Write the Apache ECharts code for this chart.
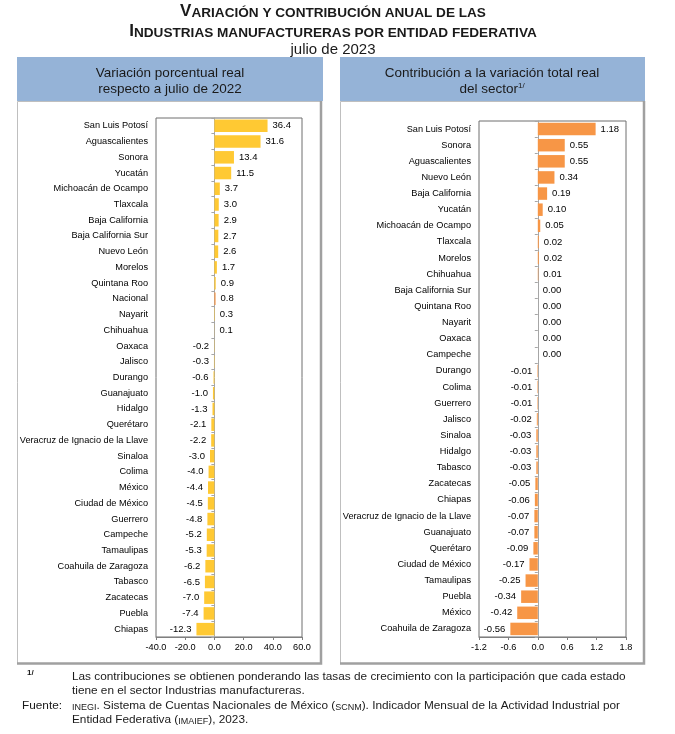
<!DOCTYPE html>
<html>
<head>
<meta charset="utf-8">
<script src="https://cdn.jsdelivr.net/npm/echarts@6/dist/echarts.min.js"></script>
<style>
html,body{margin:0;padding:0;background:#fff;}
#c{width:675px;height:734px;}
</style>
</head>
<body>
<div id="c"></div>
<script>
// ---- Data ----
const leftCategories = ["San Luis Potosí","Aguascalientes","Sonora","Yucatán","Michoacán de Ocampo","Tlaxcala","Baja California","Baja California Sur","Nuevo León","Morelos","Quintana Roo","Nacional","Nayarit","Chihuahua","Oaxaca","Jalisco","Durango","Guanajuato","Hidalgo","Querétaro","Veracruz de Ignacio de la Llave","Sinaloa","Colima","México","Ciudad de México","Guerrero","Campeche","Tamaulipas","Coahuila de Zaragoza","Tabasco","Zacatecas","Puebla","Chiapas"];
const leftValues = [36.4,31.6,13.4,11.5,3.7,3.0,2.9,2.7,2.6,1.7,0.9,0.8,0.3,0.1,-0.2,-0.3,-0.6,-1.0,-1.3,-2.1,-2.2,-3.0,-4.0,-4.4,-4.5,-4.8,-5.2,-5.3,-6.2,-6.5,-7.0,-7.4,-12.3];

const rightCategories = ["San Luis Potosí","Sonora","Aguascalientes","Nuevo León","Baja California","Yucatán","Michoacán de Ocampo","Tlaxcala","Morelos","Chihuahua","Baja California Sur","Quintana Roo","Nayarit","Oaxaca","Campeche","Durango","Colima","Guerrero","Jalisco","Sinaloa","Hidalgo","Tabasco","Zacatecas","Chiapas","Veracruz de Ignacio de la Llave","Guanajuato","Querétaro","Ciudad de México","Tamaulipas","Puebla","México","Coahuila de Zaragoza"];
const rightValues = [1.18,0.55,0.55,0.34,0.19,0.10,0.05,0.02,0.02,0.01,0.00,0.00,0.00,0.00,0.00,-0.01,-0.01,-0.01,-0.02,-0.03,-0.03,-0.03,-0.05,-0.06,-0.07,-0.07,-0.09,-0.17,-0.25,-0.34,-0.42,-0.56];

const leftTicks = {min:-40, max:60, interval:20, decimals:1};
const rightTicks = {min:-1.2, max:1.8, interval:0.6, decimals:1};
const highlightCategory = "Nacional";

// ---- Style ----
const F = "'Liberation Sans', Arial, sans-serif";
const YELLOW = '#ffc933';
const ORANGE = '#f79646';
const TXT = '#000';

function barData(values, cats, baseColor) {
  return values.map((v, i) => ({
    value: v,
    itemStyle: {color: cats[i] === highlightCategory ? ORANGE : baseColor},
    label: {position: v < 0 ? 'left' : 'right'}
  }));
}

const chart = echarts.init(document.getElementById('c'), null, {renderer:'canvas'});

function yAxes(gridIndex, cats) {
  return [
    {
      type:'category', gridIndex, data:cats, inverse:true, position:'left',
      axisLine:{show:false, onZero:false}, axisTick:{show:false},
      axisLabel:{color:TXT, fontFamily:F, fontSize:9.2, margin:8}
    },
    {
      type:'category', gridIndex, data:cats, inverse:true, position:'left',
      axisLine:{show:true, onZero:true, lineStyle:{color:'#a6a6a6', width:1}},
      axisTick:{show:true, length:3, lineStyle:{color:'#a6a6a6'}},
      axisLabel:{show:false}
    }
  ];
}

function xAxis(gridIndex, t) {
  return {
    type:'value', gridIndex, min:t.min, max:t.max, interval:t.interval,
    axisLine:{show:true, onZero:false, lineStyle:{color:'#7f7f7f'}},
    axisTick:{show:true, length:3, lineStyle:{color:'#7f7f7f'}},
    splitLine:{show:false},
    axisLabel:{color:TXT, fontFamily:F, fontSize:9.2, margin:6,
      formatter:v => (Math.round(v*10)/10).toFixed(t.decimals)}
  };
}

const titleRich = {
  b:{fontSize:17, fontWeight:'bold', fontFamily:F, fill:'#1a1a1a', verticalAlign:'bottom'},
  s:{fontSize:13.6, fontWeight:'bold', fontFamily:F, fill:'#1a1a1a', verticalAlign:'bottom'}
};

const option = {
  animation:false,
  backgroundColor:'#fff',
  grid:[
    {left:156, width:146, top:118, height:519, show:true, borderColor:'#6f6f6f', borderWidth:1, backgroundColor:'transparent'},
    {left:479, width:147, top:121, height:516, show:true, borderColor:'#6f6f6f', borderWidth:1, backgroundColor:'transparent'}
  ],
  xAxis:[xAxis(0, leftTicks), xAxis(1, rightTicks)],
  yAxis:[...yAxes(0, leftCategories), ...yAxes(1, rightCategories)],
  series:[
    {
      type:'bar', xAxisIndex:0, yAxisIndex:0, barWidth:12.5,
      data:barData(leftValues, leftCategories, YELLOW),
      label:{show:true, color:TXT, fontFamily:F, fontSize:9.5, distance:5,
        formatter:p => p.value.toFixed(1)}
    },
    {
      type:'bar', xAxisIndex:1, yAxisIndex:2, barWidth:12.5,
      data:barData(rightValues, rightCategories, ORANGE),
      label:{show:true, color:TXT, fontFamily:F, fontSize:9.5, distance:5,
        formatter:p => p.value.toFixed(2)}
    }
  ],
  graphic:[
    // titles (small caps)
    {type:'text', x:333, y:20, style:{
      text:'{b|V}{s|ARIACIÓN Y CONTRIBUCIÓN ANUAL DE LAS}',
      font:'bold 13.6px '+F, fill:'#1a1a1a', align:'center', verticalAlign:'bottom', rich:titleRich
    }},
    {type:'text', x:333, y:40, style:{
      text:'{b|I}{s|NDUSTRIAS MANUFACTURERAS POR ENTIDAD FEDERATIVA}',
      font:'bold 13.6px '+F, fill:'#1a1a1a', align:'center', verticalAlign:'bottom', rich:titleRich
    }},
    {type:'text', x:333, y:50, style:{text:'julio de 2023', font:'15px '+F, fill:'#1a1a1a', align:'center', verticalAlign:'middle'}},
    // headers
    {type:'rect', shape:{x:17, y:57, width:306, height:44}, style:{fill:'#95b3d7'}},
    {type:'rect', shape:{x:340, y:57, width:305, height:44}, style:{fill:'#95b3d7'}},
    {type:'text', x:170, y:73, style:{text:'Variación porcentual real', font:'13.5px '+F, fill:'#1a1a1a', align:'center', verticalAlign:'middle'}},
    {type:'text', x:170, y:89, style:{text:'respecto a julio de 2022', font:'13.5px '+F, fill:'#1a1a1a', align:'center', verticalAlign:'middle'}},
    {type:'text', x:492, y:73, style:{text:'Contribución a la variación total real', font:'13.5px '+F, fill:'#1a1a1a', align:'center', verticalAlign:'middle'}},
    {type:'text', x:492, y:89, style:{text:'del sector{sup|1/}', font:'13.5px '+F, fill:'#1a1a1a', align:'center', verticalAlign:'middle',
      rich:{sup:{fontSize:8, fontFamily:F, fill:'#1a1a1a', verticalAlign:'top', padding:[0,0,6,0]}}}},
    // panel frames
    {type:'polyline', shape:{points:[[17.5,664],[17.5,101.5],[321,101.5]]}, style:{stroke:'#bfbfbf', lineWidth:1, fill:null}},
    {type:'polyline', shape:{points:[[17,663.5],[321,663.5],[321,101]]}, style:{stroke:'#a0a0a0', lineWidth:2.5, fill:null}},
    {type:'polyline', shape:{points:[[340.5,664],[340.5,101.5],[644,101.5]]}, style:{stroke:'#bfbfbf', lineWidth:1, fill:null}},
    {type:'polyline', shape:{points:[[340,663.5],[644,663.5],[644,101]]}, style:{stroke:'#a0a0a0', lineWidth:2.5, fill:null}},
    // footnotes
    {type:'text', x:27, y:673, style:{text:'1/', font:'bold 8px '+F, fill:'#1a1a1a', align:'left', verticalAlign:'middle'}},
    {type:'text', x:72, y:677, style:{text:'Las contribuciones se obtienen ponderando las tasas de crecimiento con la participación que cada estado', font:'11.8px '+F, fill:'#1a1a1a', align:'left', verticalAlign:'middle'}},
    {type:'text', x:72, y:691, style:{text:'tiene en el sector Industrias manufactureras.', font:'11.8px '+F, fill:'#1a1a1a', align:'left', verticalAlign:'middle'}},
    {type:'text', x:22, y:706, style:{text:'Fuente:', font:'11.8px '+F, fill:'#1a1a1a', align:'left', verticalAlign:'middle'}},
    {type:'text', x:72, y:706, style:{
      text:'{sc|INEGI}{n|. Sistema de Cuentas Nacionales de México (}{sc|SCNM}{n|). Indicador Mensual de la Actividad Industrial por}',
      font:'11.8px '+F, fill:'#1a1a1a', align:'left', verticalAlign:'middle',
      rich:{n:{fontSize:11.8, fontFamily:F, fill:'#1a1a1a', verticalAlign:'bottom'},
            sc:{fontSize:9, fontFamily:F, fill:'#1a1a1a', verticalAlign:'bottom'}}}},
    {type:'text', x:72, y:720, style:{
      text:'{n|Entidad Federativa (}{sc|IMAIEF}{n|), 2023.}',
      font:'11.8px '+F, fill:'#1a1a1a', align:'left', verticalAlign:'middle',
      rich:{n:{fontSize:11.8, fontFamily:F, fill:'#1a1a1a', verticalAlign:'bottom'},
            sc:{fontSize:9, fontFamily:F, fill:'#1a1a1a', verticalAlign:'bottom'}}}}
  ]
};
chart.setOption(option);
</script>
</body>
</html>
